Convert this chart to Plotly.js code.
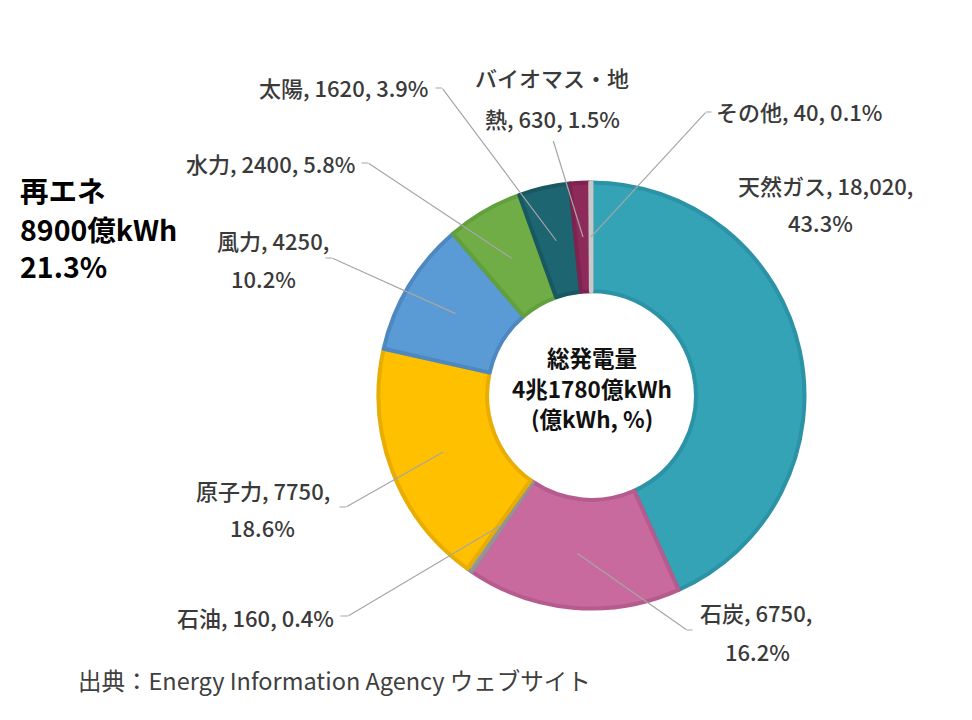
<!DOCTYPE html>
<html>
<head>
<meta charset="utf-8">
<script src="https://cdn.plot.ly/plotly-3.0.1.min.js"></script>
<style>html,body{margin:0;padding:0;background:#fff;}#chart{width:972px;height:720px;}</style>
</head>
<body>
<div id="chart"></div>
<script>
// ---- data ----
const categories = ["天然ガス", "石炭", "石油", "原子力", "風力", "水力", "太陽", "バイオマス・地熱", "その他"];
const values = [18020, 6750, 160, 7750, 4250, 2400, 1620, 630, 40];
const valueLabels = ["18,020", "6750", "160", "7750", "4250", "2400", "1620", "630", "40"];
const percents = [43.3, 16.2, 0.4, 18.6, 10.2, 5.8, 3.9, 1.5, 0.1];
const centerLines = ["総発電量", "4兆1780億kWh", "(億kWh, %)"];
const renewLines = ["再エネ", "8900億kWh", "21.3%"];
const sourceText = "出典：Energy Information Agency ウェブサイト";

// ---- styling / layout ----
const W = 972, H = 720;
const CX = 591.5, CY = 395.5, R = 213, HOLE = 0.49;
const fillColors = ["#34A3B6", "#C96A9F", "#A5A5A5", "#FFC000", "#5B9BD5", "#70AD47", "#1D6570", "#8E2A5A", "#D9D9D9"];
const lineColors = ["#2B93A5", "#B65B8E", "#939393", "#E8AD00", "#4E88C0", "#62A03D", "#185861", "#7C2350", "#C8C8C8"];
const FONT = "'Noto Sans CJK JP', 'Noto Sans', sans-serif";
const LABEL_SIZE = 22;
const LABEL_COLOR = "#3A3A3A";
const LEADER_COLOR = "#A6A6A6";
const CENTER_Y = [357, 388, 418];
const RENEW_Y = [190, 228, 265];

// label placement (pixel centres of each text line), break style, leader tail, elbow end x
const labelLayout = [
  {lines: [[825, 185], [820, 222]], brk: 2, tail: null, elbow: null},
  {lines: [[756, 612], [757, 651]], brk: 2, tail: [687, 630], elbow: 693},
  {lines: [[255, 617]], brk: 0, tail: [348, 616], elbow: 340},
  {lines: [[263, 490], [262, 527]], brk: 2, tail: [346, 507], elbow: 339},
  {lines: [[273, 240], [263, 278]], brk: 2, tail: [332, 258], elbow: 325},
  {lines: [[270, 163]], brk: 0, tail: [368, 163], elbow: 361},
  {lines: [[343, 87]], brk: 0, tail: [442, 88], elbow: 435},
  {lines: [[552, 77], [552, 118]], brk: -1, tail: [553, 140], elbow: null},
  {lines: [[799, 111]], brk: 0, tail: [706, 112], elbow: 712}
];

const px2x = p => p / W;
const py2y = p => 1 - p / H;

const total = values.reduce((a, b) => a + b, 0);
const annotations = [];

function seg(hx, hy, tx, ty) {
  annotations.push({
    x: px2x(hx), y: py2y(hy), xref: "paper", yref: "paper",
    ax: tx - hx, ay: ty - hy, axref: "pixel", ayref: "pixel",
    text: " ", font: {size: 1}, borderpad: 0,
    showarrow: true, arrowhead: 0, arrowwidth: 1.2, arrowcolor: LEADER_COLOR,
    standoff: 0, startstandoff: 0
  });
}

let cum = 0;
values.forEach((v, i) => {
  const mid = (cum + v / 2) / total;
  cum += v;
  const L = labelLayout[i];
  const full = categories[i] + ", " + valueLabels[i] + ", " + percents[i] + "%";
  let parts;
  if (L.brk === 0) parts = [full];
  else if (L.brk === 2) {
    const k = full.lastIndexOf(", ");
    parts = [full.slice(0, k + 1), full.slice(k + 2)];
  } else {
    const name = categories[i];
    parts = [name.slice(0, name.length - 1), full.slice(name.length - 1)];
  }
  parts.forEach((t, j) => {
    annotations.push({
      x: px2x(L.lines[j][0]), y: py2y(L.lines[j][1]), xref: "paper", yref: "paper",
      text: t, showarrow: false, xanchor: "center", yanchor: "middle",
      font: {family: FONT, size: LABEL_SIZE, color: LABEL_COLOR, weight: 500}
    });
  });
  if (L.tail) {
    const ang = mid * 2 * Math.PI;
    const rMid = R * (1 + HOLE) / 2;
    const hx = CX + rMid * Math.sin(ang);
    const hy = CY - rMid * Math.cos(ang);
    seg(hx, hy, L.tail[0], L.tail[1]);
    if (L.elbow !== null) seg(L.tail[0], L.tail[1], L.elbow, L.tail[1]);
  }
});

centerLines.forEach((t, j) => {
  annotations.push({
    x: px2x(CX), y: py2y(CENTER_Y[j]), xref: "paper", yref: "paper",
    text: t, showarrow: false, xanchor: "center", yanchor: "middle",
    font: {family: FONT, size: 22.5, color: "#111111", weight: "bold"}
  });
});
renewLines.forEach((t, j) => {
  annotations.push({
    x: px2x(18), y: py2y(RENEW_Y[j]), xref: "paper", yref: "paper",
    text: t, showarrow: false, xanchor: "left", yanchor: "middle",
    font: {family: FONT, size: 28.5, color: "#000000", weight: "bold"}
  });
});
annotations.push({
  x: px2x(76), y: py2y(680), xref: "paper", yref: "paper",
  text: sourceText, showarrow: false, xanchor: "left", yanchor: "middle",
  font: {family: FONT, size: 23.5, color: "#404040"}
});

const trace = {
  type: "pie",
  labels: categories,
  values: values,
  sort: false,
  direction: "clockwise",
  rotation: 0,
  hole: HOLE,
  textinfo: "none",
  hoverinfo: "label+value+percent",
  marker: {colors: fillColors, line: {color: lineColors, width: 4}},
  domain: {x: [px2x(CX - R), px2x(CX + R)], y: [py2y(CY + R), py2y(CY - R)]},
  showlegend: false
};

const layout = {
  width: W, height: H,
  margin: {l: 0, r: 0, t: 0, b: 0},
  paper_bgcolor: "#ffffff",
  showlegend: false,
  annotations: annotations,
  font: {family: FONT}
};

Plotly.newPlot("chart", [trace], layout, {displayModeBar: false, staticPlot: true});
</script>
</body>
</html>
